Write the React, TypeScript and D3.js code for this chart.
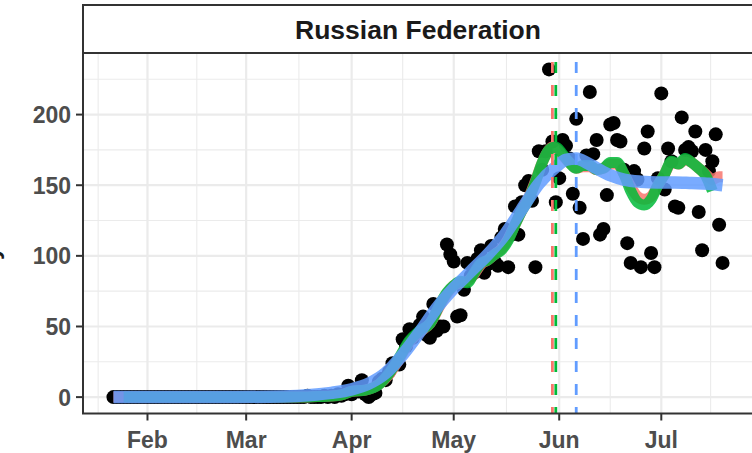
import React from "react";
import * as d3 from "d3";

const START = Date.UTC(2020, 0, 22);
const DAY = 86400000;

// Daily deaths, one value per day starting 2020-01-22
const deaths: number[] = [
  0, 0, 0, 0, 0, 0, 0, 0, 0, 0,
  0, 0, 0, 0, 0, 0, 0, 0, 0, 0,
  0, 0, 0, 0, 0, 0, 0, 0, 0, 0,
  0, 0, 0, 0, 0, 0, 0, 0, 0, 0,
  0, 0, 0, 0, 0, 0, 0, 0, 0, 0,
  0, 0, 0, 0, 0, 0, 0,
  1, 0, 0, 0, 0, 1, 0, 1, 0, 2, 1, 2, 8, 2, 6, 4, 12, 2, 0, 2, 3,
  11, 13, 12, 18, 24, 24, 23, 41, 36, 48, 42, 48, 51, 57, 44, 42, 66, 47, 50, 50,
  108, 101, 96, 57, 58, 76, 95, 86, 88, 98, 104, 88, 94, 107, 96, 93, 113, 119, 92, 115,
  135, 115, 138, 150, 153, 139, 92, 174, 161, 174, 232, 181, 138, 155, 182, 178, 169, 144, 197, 134,
  112, 171, 216, 172, 182, 115, 119, 143, 193, 194, 182, 181, 161, 109, 95, 160, 154, 92, 176, 188,
  102, 92, 155, 215, 147, 176, 167, 135, 134, 198, 175, 177, 174, 188, 131, 104, 175, 160, 167, 186,
  122, 95,
];

// Green line (rolling mean): day index, value
const greenDays: number[] = [3, 56, 60, 64, 67, 70, 74, 78, 81, 84, 87, 90, 93, 96, 98, 100, 102, 104, 106, 108, 110, 112, 114, 116, 118, 120, 122, 124, 126, 128, 130, 132, 134, 136, 138, 140, 142, 144, 146, 148, 150, 152, 154, 156, 158, 160, 162, 164, 166, 168, 170, 172, 174, 176];
const greenVals: number[] = [0, 0, 0.4, 0.7, 1.5, 4, 5, 9, 17, 28, 40, 47, 52, 66, 74, 79, 82, 81, 88, 95, 97, 101, 104, 111, 122, 132, 140, 152, 166, 175, 177, 172, 166, 162, 164, 164, 161, 162, 166, 166, 158, 146, 138, 136, 140, 150, 158, 167, 165, 169, 166, 162, 157, 146];

// Red line
const redDays: number[] = [0, 56, 60, 64, 67, 70, 74, 78, 81, 84, 87, 90, 93, 96, 98, 100, 102, 104, 106, 108, 110, 112, 114, 116, 118, 120, 122, 124, 126, 128, 129, 130, 132, 134, 136, 138, 140, 142, 144, 146, 148, 150, 152, 154, 156, 158, 160, 162, 164, 166, 168, 170, 172, 174, 176, 178, 179];
const redVals: number[] = [0, 0, 0.5, 0.8, 1.6, 4, 5, 9, 16, 27, 39, 46, 52, 65, 73, 79, 81, 82, 87, 94, 97, 101, 105, 112, 122, 132, 141, 153, 166, 175, 177, 176, 171, 166, 162, 163, 163, 161, 162, 165, 165, 158, 149, 142, 140, 142, 150, 158, 166, 165, 168, 166, 162, 158, 154, 156, 156];

// Blue smooth (loess)
const blueDays: number[] = [0, 30, 50, 58, 64, 70, 75, 80, 85, 90, 95, 100, 105, 110, 115, 120, 125, 130, 133, 136, 139, 142, 146, 150, 155, 160, 165, 170, 175, 179];
const blueVals: number[] = [0, 0, 0.5, 1.5, 3, 5.5, 9.5, 17, 30, 46, 63, 77, 89, 101, 115, 133, 151, 163, 168, 169, 166, 162, 157, 154, 152.5, 152, 152, 151.5, 151, 150];

// Peak markers (day index) for red, green, blue
const peakDays: number[] = [129, 130, 136];
const seriesColors: string[] = ["#F8766D", "#00BA38", "#619CFF"];

const yMajor: number[] = [0, 50, 100, 150, 200];
const yMinor: number[] = [25, 75, 125, 175, 225];

const stripLabel = "Russian Federation";
const yTitle = "Daily deaths";

const dayDate = (d: number) => new Date(START + d * DAY);

export default function App() {
  const W = 752, H = 453;
  const left = 83, right = 753, top = 53, bottom = 413.5;
  const nDays = deaths.length - 1;
  const pad = nDays * 0.05;
  const x = d3.scaleUtc()
    .domain([dayDate(-pad), dayDate(nDays + pad)])
    .range([left, right]);
  const y = d3.scaleLinear().domain([-11.6, 243.6]).range([bottom, top]);

  const xMajor = x.ticks(d3.utcMonth.every(1)!);
  const step = +xMajor[1] - +xMajor[0];
  const ext = [new Date(+xMajor[0] - step), ...xMajor, new Date(+xMajor[xMajor.length - 1] + step)];
  const xMinor: Date[] = [];
  for (let i = 0; i < ext.length - 1; i++) {
    const m = new Date((+ext[i] + +ext[i + 1]) / 2);
    if (+m > +x.domain()[0] && +m < +x.domain()[1]) xMinor.push(m);
  }
  const fmt = d3.utcFormat("%b");

  const line = d3.line<[number, number]>()
    .x((d) => x(dayDate(d[0])))
    .y((d) => y(d[1]))
    .curve(d3.curveMonotoneX);
  const pairs = (ds: number[], vs: number[]) => ds.map((d, i) => [d, vs[i]] as [number, number]);

  const font = "'Liberation Sans', Arial, sans-serif";

  return (
    <svg width={W} height={H} style={{ position: "absolute", left: 0, top: 0, background: "#fff" }} fontFamily={font}>
      <defs>
        <clipPath id="panel">
          <rect x={left} y={top} width={right - left} height={bottom - top} />
        </clipPath>
      </defs>
      <rect x={0} y={0} width={W} height={H} fill="#fff" />
      {/* grid */}
      <g clipPath="url(#panel)">
        {yMinor.map((v) => (
          <line key={"ym" + v} x1={left} x2={right} y1={y(v)} y2={y(v)} stroke="#EBEBEB" strokeWidth={1.1} />
        ))}
        {xMinor.map((d, i) => (
          <line key={"xm" + i} x1={x(d)} x2={x(d)} y1={top} y2={bottom} stroke="#EBEBEB" strokeWidth={1.1} />
        ))}
        {yMajor.map((v) => (
          <line key={"yM" + v} x1={left} x2={right} y1={y(v)} y2={y(v)} stroke="#EBEBEB" strokeWidth={2.2} />
        ))}
        {xMajor.map((d, i) => (
          <line key={"xM" + i} x1={x(d)} x2={x(d)} y1={top} y2={bottom} stroke="#EBEBEB" strokeWidth={2.2} />
        ))}
        {/* points */}
        {deaths.map((v, i) => (
          <circle key={"p" + i} cx={x(dayDate(i))} cy={y(v)} r={7} fill="#000" />
        ))}
        {/* lines */}
        <path d={line(pairs(redDays, redVals)) || ""} fill="none" stroke={seriesColors[0]} strokeWidth={11} strokeOpacity={0.85} />
        <path d={line(pairs(greenDays, greenVals)) || ""} fill="none" stroke={seriesColors[1]} strokeWidth={11} strokeOpacity={0.85} />
        <path d={line(pairs(blueDays, blueVals)) || ""} fill="none" stroke={seriesColors[2]} strokeWidth={12.5} strokeOpacity={0.85} />
        {/* peak markers */}
        {peakDays.map((d, i) => (
          <line key={"v" + i} x1={x(dayDate(d))} x2={x(dayDate(d))} y1={top} y2={bottom}
            stroke={seriesColors[i]} strokeWidth={2.8} strokeDasharray="11 12" strokeDashoffset={14} />
        ))}
      </g>
      {/* panel border */}
      <rect x={left} y={top} width={right - left} height={bottom - top} fill="none" stroke="#333333" strokeWidth={2} />
      {/* strip */}
      <rect x={left} y={5} width={right - left} height={top - 5} fill="#fff" stroke="#333333" strokeWidth={2} />
      <text x={(left + right) / 2} y={39} textAnchor="middle" fontSize={26.5} fontWeight="bold" fill="#1A1A1A">{stripLabel}</text>
      {/* y axis */}
      {yMajor.map((v) => (
        <g key={"yt" + v}>
          <line x1={left - 7} x2={left} y1={y(v)} y2={y(v)} stroke="#333333" strokeWidth={2} />
          <text x={left - 12} y={y(v) + 8.5} textAnchor="end" fontSize={23} fontWeight="bold" fill="#4D4D4D">{v}</text>
        </g>
      ))}
      {/* x axis */}
      {xMajor.map((d, i) => (
        <g key={"xt" + i}>
          <line x1={x(d)} x2={x(d)} y1={bottom} y2={bottom + 7} stroke="#333333" strokeWidth={2} />
          <text x={x(d)} y={bottom + 34} textAnchor="middle" fontSize={23} fontWeight="bold" fill="#4D4D4D">{fmt(d)}</text>
        </g>
      ))}
      <text transform={`translate(-1, ${(top + bottom) / 2}) rotate(-90)`} textAnchor="middle" fontSize={24} fontWeight="bold" fill="#1A1A1A">{yTitle}</text>
    </svg>
  );
}
